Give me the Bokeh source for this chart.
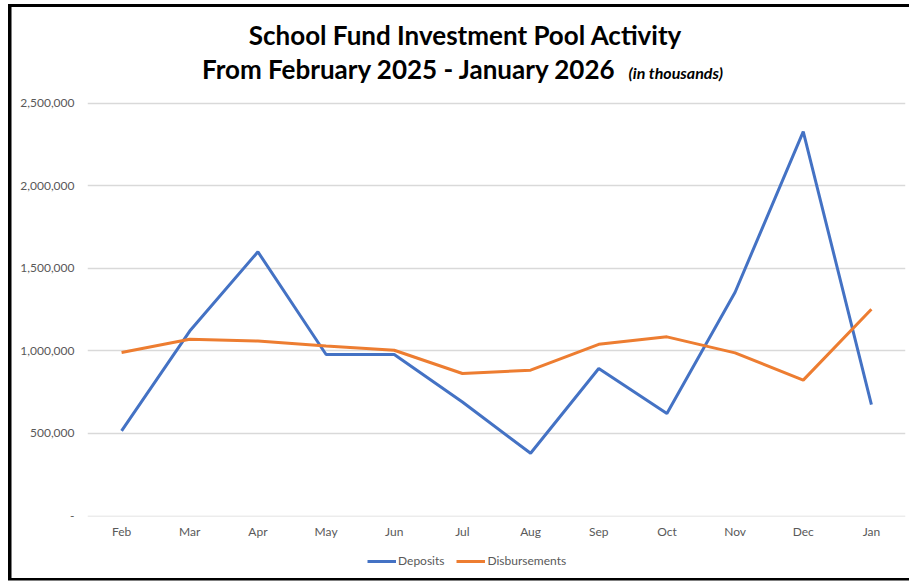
from bokeh.plotting import figure
from bokeh.models import FixedTicker, Legend, LegendItem, Label, Range1d
from bokeh.layouts import column
from bokeh.embed import file_html
from bokeh.resources import INLINE

months = ["Feb", "Mar", "Apr", "May", "Jun", "Jul", "Aug", "Sep", "Oct", "Nov", "Dec", "Jan"]
deposits = [515000, 1120000, 1600000, 978000, 978000, 690000, 380000, 893000, 621000, 1355000, 2328000, 675000]
disbursements = [990000, 1070000, 1060000, 1030000, 1004000, 863000, 883000, 1040000, 1085000, 988000, 823000, 1252000]
y_ticks = [0, 500000, 1000000, 1500000, 2000000, 2500000]
y_tick_labels = ["-", "500,000", "1,000,000", "1,500,000", "2,000,000", "2,500,000"]
series_names = ["Deposits", "Disbursements"]
series_values = [deposits, disbursements]
series_colors = ["#4472C4", "#ED7D31"]

FONT = "Lato"
GRAY = "#595959"

p = figure(width=909, height=541, x_range=months, y_range=Range1d(-3000, 3122000),
           output_backend="svg", toolbar_location=None,
           min_border_left=87, min_border_right=4, min_border_top=0, min_border_bottom=0)
p.outline_line_color = None
p.background_fill_alpha = 0
p.border_fill_alpha = 0

p.xgrid.grid_line_color = None
p.ygrid.grid_line_color = "#d9d9d9"
p.ygrid.grid_line_width = 1.5
p.yaxis.ticker = FixedTicker(ticks=y_ticks)
p.yaxis.major_label_overrides = {t: l for t, l in zip(y_ticks, y_tick_labels)}
for ax in (p.xaxis[0], p.yaxis[0]):
    ax.axis_line_color = None
    ax.major_tick_line_color = None
    ax.minor_tick_line_color = None
    ax.major_tick_out = 0
    ax.major_tick_in = 0
    ax.major_label_text_font = FONT
    ax.major_label_text_font_size = "12px"
    ax.major_label_text_color = GRAY
p.yaxis.major_label_standoff = 13
p.xaxis.major_label_standoff = 7

for vals, col in zip(series_values, series_colors):
    p.line(months, vals, line_color=col, line_width=3)

p.add_layout(Label(x=465, y=34, x_units="canvas", y_units="canvas", text="School Fund Investment Pool Activity",
                   text_font=FONT, text_font_size="26px", text_font_style="bold",
                   text_align="center", text_baseline="middle", text_color="black"))
p.add_layout(Label(x=412, y=68, x_units="canvas", y_units="canvas", text="From  February 2025 - January 2026",
                   text_font=FONT, text_font_size="26px", text_font_style="bold",
                   text_align="center", text_baseline="middle", text_color="black"))
p.add_layout(Label(x=628, y=72, x_units="canvas", y_units="canvas", text="(in thousands)",
                   text_font=FONT, text_font_size="16px", text_font_style="bold italic",
                   text_align="left", text_baseline="middle", text_color="black"))

# legend strip (series drawn out of view so only their legend entries show)
pl = figure(width=909, height=40, x_range=p.x_range, y_range=Range1d(-2, -1),
            output_backend="svg", toolbar_location=None, x_axis_type=None, y_axis_type=None,
            min_border=0)
pl.outline_line_color = None
pl.background_fill_alpha = 0
pl.border_fill_alpha = 0
pl.grid.visible = False
items = []
for name, vals, col in zip(series_names, series_values, series_colors):
    r = pl.line(months, vals, line_color=col, line_width=3)
    items.append(LegendItem(label=name, renderers=[r]))
legend = Legend(items=items, orientation="horizontal", location=(280, 13),
                border_line_color=None, background_fill_alpha=0,
                padding=0, margin=0, spacing=12, glyph_width=29, glyph_height=14,
                label_height=14, label_standoff=2,
                label_text_font=FONT, label_text_font_size="12px", label_text_color=GRAY)
pl.add_layout(legend, "center")

layout = column(p, pl, spacing=0)
layout.styles = {
    "background": ("linear-gradient(#000,#000) 8px 4px / 3.5px 576px no-repeat, "
                   "linear-gradient(#000,#000) 8px 4px / 901px 3px no-repeat, "
                   "linear-gradient(#000,#000) 8px 578px / 901px 2.5px no-repeat, white"),
}

open("out.html", "w").write(file_html(layout, INLINE))
